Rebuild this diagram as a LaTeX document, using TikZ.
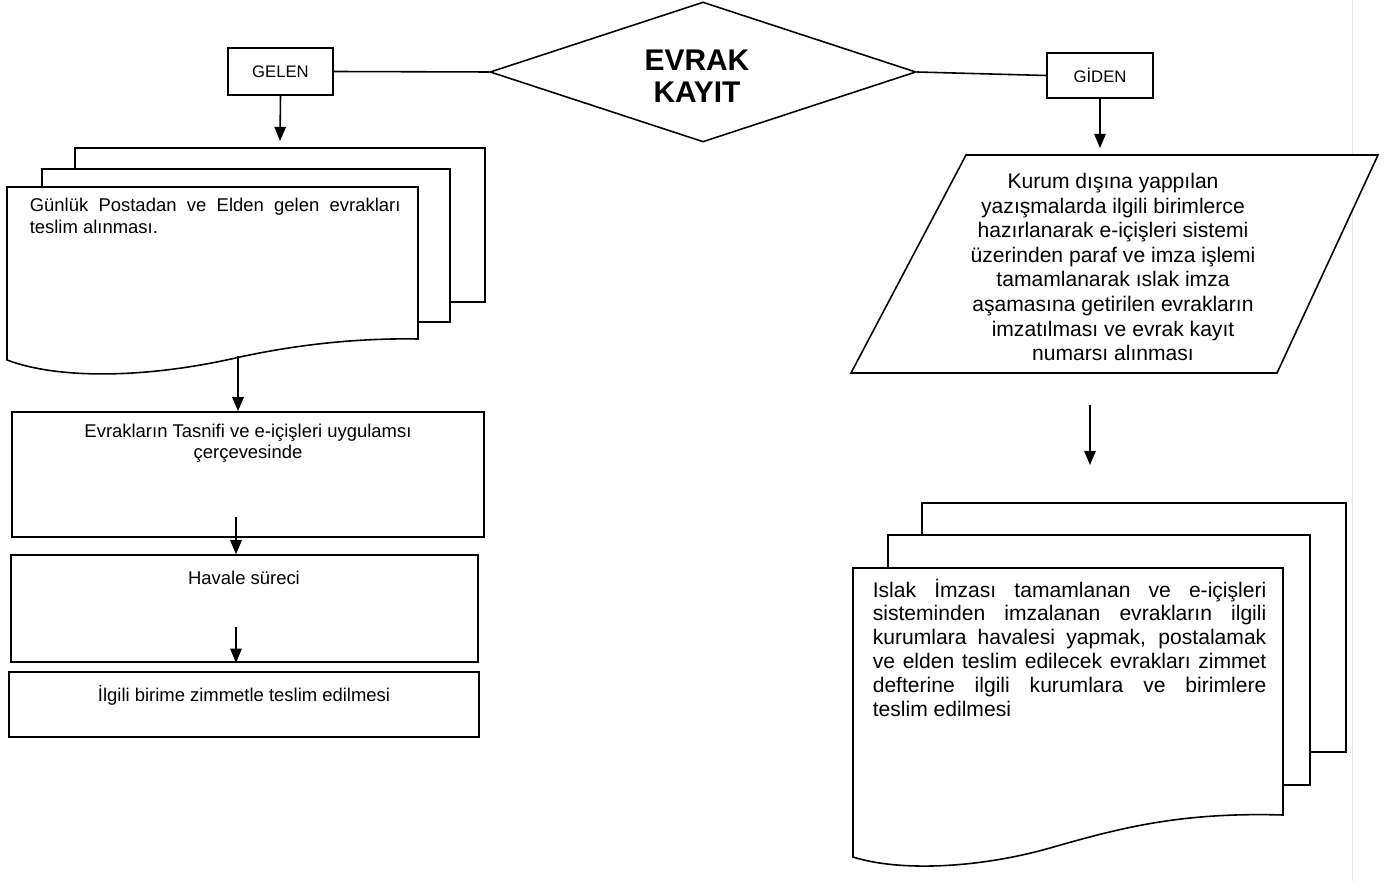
\documentclass[tikz,border=0pt]{standalone}
\usepackage{fontspec}
\setmainfont{Liberation Sans}
\usetikzlibrary{arrows.meta,shapes.geometric}
\newcommand\pxu{0.02cm}
\begin{document}
\begin{tikzpicture}[x=0.02cm,y=-0.02cm,
  line width=0.9pt,
  box/.style={draw,fill=white,inner sep=0pt},
  sheet/.style={draw,fill=white},
  arr/.style={-{Triangle[length=8pt,width=6.5pt]}},
  lbl/.style={font=\fontsize{10.5}{12.2}\selectfont,inner sep=0pt},
  big/.style={font=\fontsize{12}{13.6}\selectfont,inner sep=0pt},
  ]
\useasboundingbox (0,0) rectangle (1393,881);
\fill[white] (0,0) rectangle (1393,881);
\draw[line width=0.4pt, black!10] (1352,0) -- (1352,881);

% top row
\node[box,minimum width=105*\pxu,minimum height=47*\pxu,font=\fontsize{9.5}{11}\selectfont] (gelen) at (280.5,71.5) {GELEN};
\node[draw,diamond,minimum width=426*\pxu,minimum height=140*\pxu,inner sep=0pt] (evrak) at (703,72) {};
\node[font=\bfseries\fontsize{17}{18}\selectfont,align=center,inner sep=0pt] (title) at (697,76) {EVRAK\\KAYIT};
\node[box,minimum width=106*\pxu,minimum height=45*\pxu,font=\fontsize{9.5}{11}\selectfont] (giden) at (1100,75.5) {GİDEN};
\draw (gelen.east) -- (evrak.west);
\draw (evrak.east) -- (giden.west);

% left multi-document
\draw[sheet] (75,148) rectangle (485,302);
\draw[sheet] (42,169) rectangle (450,322);
\draw[sheet] (7,187) -- (418,187) -- (418,339) .. controls (360,338) and (300,344) .. (240,357) .. controls (150,378) and (60,380) .. (7,360) -- cycle;
\node[lbl,align=left,anchor=north west,font=\fontsize{10.5}{12.5}\selectfont] (ldoc) at (29,197) {\makebox[211pt][s]{Günlük Postadan ve Elden gelen evrakları}\\teslim alınması.};
\coordinate (ldtop) at (280,141);
\draw[arr] (gelen.south) -- (ldtop);

% left boxes
\node[box,minimum width=472*\pxu,minimum height=125*\pxu] (b1) at (248,474.5) {};
\node[lbl,align=center,anchor=north] (t1) at (248,423) {Evrakların Tasnifi ve e-içişleri uygulamsı\\çerçevesinde};
\node[box,minimum width=467*\pxu,minimum height=107*\pxu] (b2) at (244.5,608.5) {};
\node[lbl,anchor=north] (t2) at (244,570) {Havale süreci};
\node[box,minimum width=470*\pxu,minimum height=65*\pxu] (b3) at (244,704.5) {};
\node[lbl,anchor=north] (t3) at (244,685) {İlgili birime zimmetle teslim edilmesi};

\coordinate (ld) at (238,356);
\draw[arr] (ld) -- (ld |- b1.north);
\coordinate (a2) at (236,517);
\draw[arr] (a2) -- (a2 |- b2.north);
\coordinate (a3) at (236,627);
\draw[arr] (a3) -- (a3 |- b2.south);

% right parallelogram
\coordinate (p1) at (966,155);
\coordinate (p2) at (1378,155);
\coordinate (p3) at (1277,373);
\coordinate (p4) at (851,373);
\draw[fill=white] (p1) -- (p2) -- (p3) -- (p4) -- cycle;
\node[big,align=center,font=\fontsize{12}{14}\selectfont] (ptext) at (1113,267) {Kurum dışına yappılan\\yazışmalarda ilgili birimlerce\\hazırlanarak e-içişleri sistemi\\üzerinden paraf ve imza işlemi\\tamamlanarak ıslak imza\\aşamasına getirilen evrakların\\imzatılması ve evrak kayıt\\numarsı alınması};
\coordinate (ptop) at (1100,148);
\draw[arr] (giden.south) -- (ptop);

\coordinate (r1) at (1090,405);
\coordinate (r2) at (1090,465);
\draw[arr] (r1) -- (r2);

% right multi-document
\draw[sheet] (922,503) rectangle (1346,752);
\draw[sheet] (888,535) rectangle (1310,785);
\draw[sheet] (853,568) -- (1283,568) -- (1283,815) .. controls (1180,812) and (1120,828) .. (1050,848) .. controls (980,868) and (900,872) .. (853,857) -- cycle;
\node[big,align=left,anchor=north west] (rdoc) at (872,578) {%
\makebox[224pt][s]{Islak İmzası tamamlanan ve e-içişleri}\\
\makebox[224pt][s]{sisteminden imzalanan evrakların ilgili}\\
\makebox[224pt][s]{kurumlara havalesi yapmak, postalamak}\\
\makebox[224pt][s]{ve elden teslim edilecek evrakları zimmet}\\
\makebox[224pt][s]{defterine ilgili kurumlara ve birimlere}\\
teslim edilmesi};
\end{tikzpicture}
\end{document}
